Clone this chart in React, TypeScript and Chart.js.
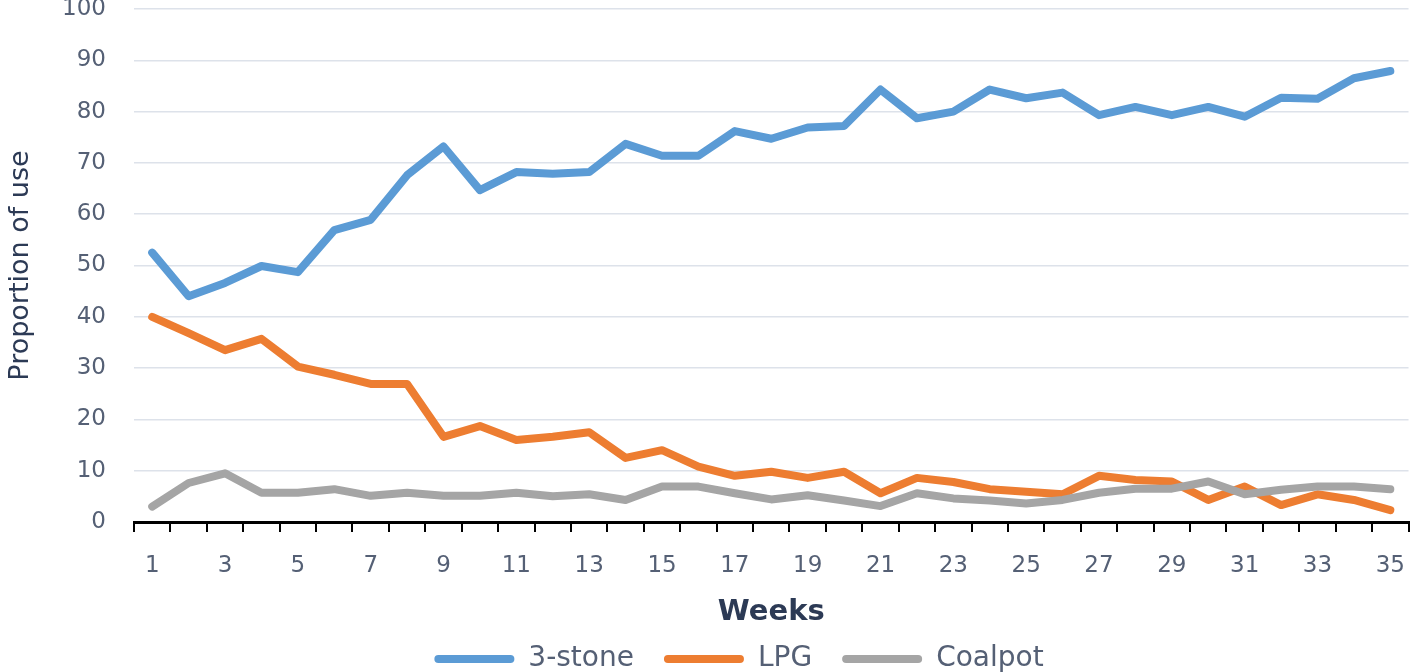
import React, { useEffect, useRef } from 'react';
import { Chart, registerables } from 'chart.js';

Chart.register(...registerables);

const weeks = ['1', '2', '3', '4', '5', '6', '7', '8', '9', '10', '11', '12', '13', '14', '15', '16', '17', '18', '19', '20', '21', '22', '23', '24', '25', '26', '27', '28', '29', '30', '31', '32', '33', '34', '35'];

const threeStone = [52.5, 44.0, 46.6, 49.9, 48.7, 56.9, 58.9, 67.6, 73.2, 64.7, 68.2, 67.9, 68.2, 73.7, 71.4, 71.4, 76.2, 74.7, 76.9, 77.2, 84.3, 78.7, 80.0, 84.3, 82.6, 83.7, 79.3, 80.9, 79.3, 80.9, 79.0, 82.7, 82.5, 86.5, 87.9];
const lpg = [40.0, 36.8, 33.5, 35.7, 30.3, 28.7, 26.9, 26.9, 16.6, 18.7, 16.0, 16.6, 17.5, 12.5, 14.0, 10.8, 9.0, 9.8, 8.6, 9.8, 5.6, 8.6, 7.8, 6.4, 5.9, 5.4, 9.0, 8.2, 7.9, 4.3, 6.9, 3.3, 5.4, 4.3, 2.3];
const coalpot = [3.0, 7.6, 9.5, 5.7, 5.7, 6.4, 5.1, 5.7, 5.1, 5.1, 5.7, 5.0, 5.4, 4.3, 6.9, 6.9, 5.6, 4.4, 5.2, 4.2, 3.1, 5.6, 4.6, 4.2, 3.6, 4.3, 5.7, 6.5, 6.5, 7.9, 5.4, 6.3, 6.9, 6.9, 6.4];

const seriesNames = ['3-stone', 'LPG', 'Coalpot'];
const seriesColors = ['#5b9bd5', '#ed7d31', '#a5a5a5'];

const FONT = "'DejaVu Sans', 'Noto Sans', sans-serif";
const TICK_COLOR = '#556075';
const TITLE_COLOR = '#2c3a55';
const LEFT_PAD = 56;

export default function App() {
  const canvasRef = useRef<HTMLCanvasElement | null>(null);

  useEffect(() => {
    document.body.style.margin = '0';
    const canvas = canvasRef.current;
    if (!canvas) return;
    const values = [threeStone, lpg, coalpot];
    const chart = new Chart(canvas, {
      type: 'line',
      data: {
        labels: weeks,
        datasets: values.map((d, i) => ({
          label: seriesNames[i],
          data: d,
          borderColor: seriesColors[i],
          backgroundColor: seriesColors[i],
          borderWidth: 8,
          pointRadius: 0,
          pointHoverRadius: 0,
          borderJoinStyle: 'round' as const,
          borderCapStyle: 'round' as const,
          tension: 0,
          fill: false,
          order: 2 - i,
        })),
      },
      options: {
        animation: false,
        responsive: true,
        maintainAspectRatio: false,
        layout: { padding: { left: LEFT_PAD, right: 3, top: 0, bottom: -11 } },
        plugins: {
          tooltip: { enabled: false },
          legend: {
            position: 'bottom',
            labels: {
              font: { family: FONT, size: 28 },
              color: TICK_COLOR,
              boxWidth: 80,
              boxHeight: 8,
              padding: 30,
              useBorderRadius: true,
              borderRadius: 4,
              generateLabels: (ch: any) =>
                ch.data.datasets.map((ds: any, i: number) => ({
                  text: ds.label,
                  fillStyle: seriesColors[i],
                  strokeStyle: seriesColors[i],
                  lineWidth: 0,
                  borderRadius: 4,
                  fontColor: TICK_COLOR,
                  hidden: false,
                  datasetIndex: i,
                })),
            },
          },
        },
        scales: {
          x: {
            type: 'category',
            offset: true,
            grid: {
              display: true,
              drawOnChartArea: false,
              drawTicks: true,
              tickLength: 10,
              color: '#000000',
              lineWidth: 2,
              offset: true,
            },
            border: { display: true, color: '#000000', width: 3 },
            ticks: {
              autoSkip: false,
              maxRotation: 0,
              color: TICK_COLOR,
              font: { family: FONT, size: 23 },
              padding: 20,
              callback: (_v: any, i: number) => (i % 2 === 0 ? weeks[i] : ''),
            },
            title: {
              display: true,
              text: 'Weeks',
              color: TITLE_COLOR,
              font: { family: FONT, size: 29, weight: 'bold', lineHeight: 1 },
              padding: { top: 0, bottom: -11.5 },
            },
            afterFit: (s: any) => {
              s.height = 93;
            },
          },
          y: {
            min: 0,
            max: 100,
            grid: {
              color: '#dde2ea',
              lineWidth: 1.5,
              drawTicks: true,
              tickLength: 28,
              tickColor: 'rgba(0,0,0,0)',
            },
            border: { display: false },
            ticks: {
              stepSize: 10,
              color: TICK_COLOR,
              font: { family: FONT, size: 23, lineHeight: 0.78 },
              padding: 0,
            },
            title: {
              display: true,
              text: 'Proportion of use',
              color: TITLE_COLOR,
              font: { family: FONT, size: 27, lineHeight: 1.2 },
              padding: { top: 21 - LEFT_PAD - 16.2, bottom: 0 },
            },
            afterFit: (s: any) => {
              s.width = 134 - LEFT_PAD;
            },
          },
        },
      },
    } as any);
    return () => chart.destroy();
  }, []);

  return (
    <div style={{ position: 'absolute', left: 0, top: 0, width: 1425, height: 672, background: '#ffffff' }}>
      <canvas ref={canvasRef} />
    </div>
  );
}
